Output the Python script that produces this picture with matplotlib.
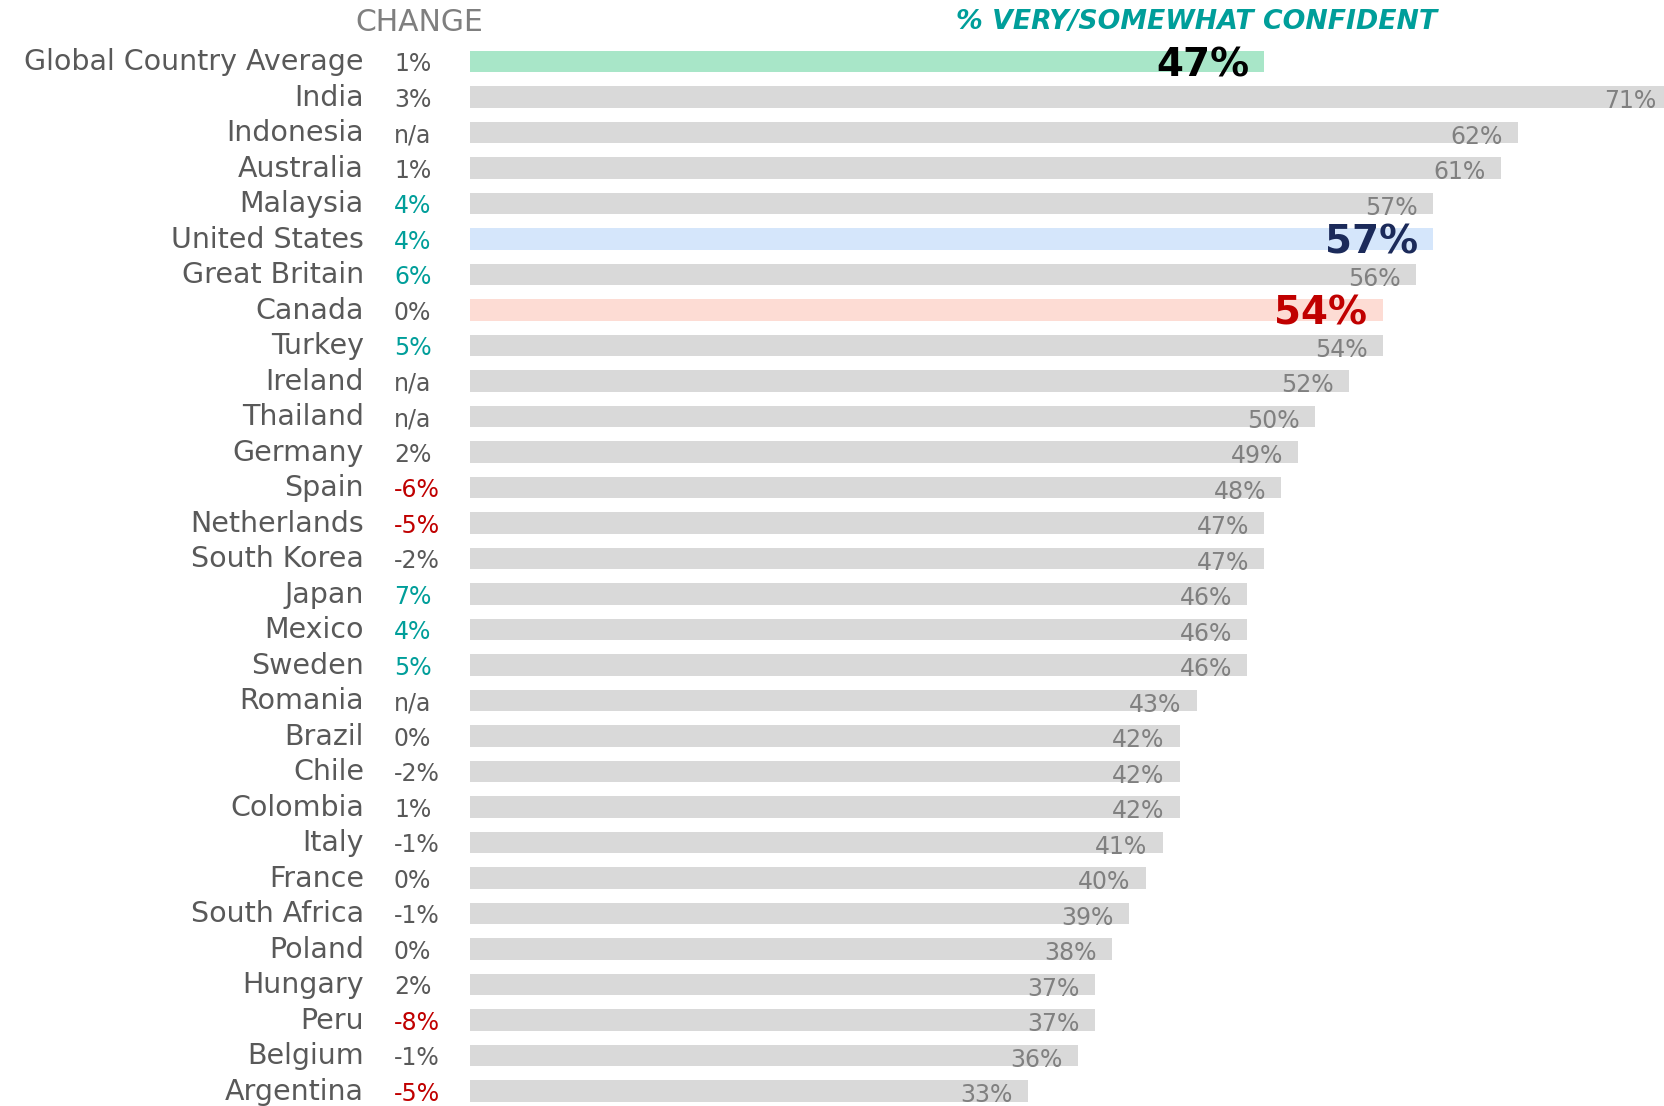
import matplotlib
matplotlib.use("Agg")
import matplotlib.pyplot as plt
import matplotlib.transforms as mtransforms

# data
countries = ["Global Country Average", "India", "Indonesia", "Australia", "Malaysia",
             "United States", "Great Britain", "Canada", "Turkey", "Ireland",
             "Thailand", "Germany", "Spain", "Netherlands", "South Korea",
             "Japan", "Mexico", "Sweden", "Romania", "Brazil",
             "Chile", "Colombia", "Italy", "France", "South Africa",
             "Poland", "Hungary", "Peru", "Belgium", "Argentina"]
confident = [47, 71, 62, 61, 57, 57, 56, 54, 54, 52,
             50, 49, 48, 47, 47, 46, 46, 46, 43, 42,
             42, 42, 41, 40, 39, 38, 37, 37, 36, 33]
change = [1, 3, None, 1, 4, 4, 6, 0, 5, None,
          None, 2, -6, -5, -2, 7, 4, 5, None, 0,
          -2, 1, -1, 0, -1, 0, 2, -8, -1, -5]

highlight = {"Global Country Average": ("#a8e6c8", "black"),
             "United States": ("#d5e6fb", "#1b2a5a"),
             "Canada": ("#fddcd4", "#c00000")}

GRAY_BAR = "#d9d9d9"
TXT = "#595959"
VAL = "#808080"
TEAL = "#009e9a"
RED = "#c00000"

plt.rcParams['font.family'] = ['DejaVu Sans']

fig = plt.figure(figsize=(16.65, 11.06), dpi=100)
ax = fig.add_axes([470 / 1665, 0, 1 - 470 / 1665, 1])

# rows are ~35.5 px apart, first row centred at ~62 px from the top
row_px = 35.5
ax.set_ylim((1106 - 61.6) / row_px, -61.6 / row_px)
xmax = (1665 - 470) / 16.9
ax.set_xlim(0, xmax)
ax.axis("off")

ypos = list(range(len(countries)))
bar_colors = [highlight[c][0] if c in highlight else GRAY_BAR for c in countries]
ax.barh(ypos, confident, height=0.6, color=bar_colors)

mix = mtransforms.blended_transform_factory(fig.transFigure, ax.transData)

for i, (c, v, ch) in enumerate(zip(countries, confident, change)):
    ax.text(364 / 1665, i + 0.02, c, transform=mix, ha="right", va="center",
            fontsize=20.5, color=TXT)

    if ch is None:
        s, col = "n/a", TXT
    else:
        s = f"{ch}%"
        col = TEAL if ch >= 4 else (RED if ch <= -5 else TXT)
    ax.text(394 / 1665, i + 0.08, s, transform=mix, ha="left", va="center",
            fontsize=17, color=col)

    if c in highlight:
        ax.annotate(f"{v}%", xy=(v, i + 0.1), xytext=(-11, 0), textcoords="offset points",
                    ha="right", va="center", fontsize=28, fontweight="bold",
                    color=highlight[c][1])
    else:
        # India runs off the right edge, keep its label inside
        x_end = min(v, xmax)
        off = -6 if v > xmax else -11
        ax.annotate(f"{v}%", xy=(x_end, i + 0.12), xytext=(off, 0),
                    textcoords="offset points", ha="right", va="center",
                    fontsize=17, color=VAL)

ax.text(419 / 1665, -1.115, "CHANGE", transform=mix, ha="center", va="center",
        fontsize=21.5, color="#7f7f7f")
ax.text(1197 / 1665, -1.115, "% VERY/SOMEWHAT CONFIDENT", transform=mix,
        ha="center", va="center", fontsize=19.3, fontweight="bold",
        fontstyle="italic", color=TEAL)

fig.savefig("out.png", dpi=100)
